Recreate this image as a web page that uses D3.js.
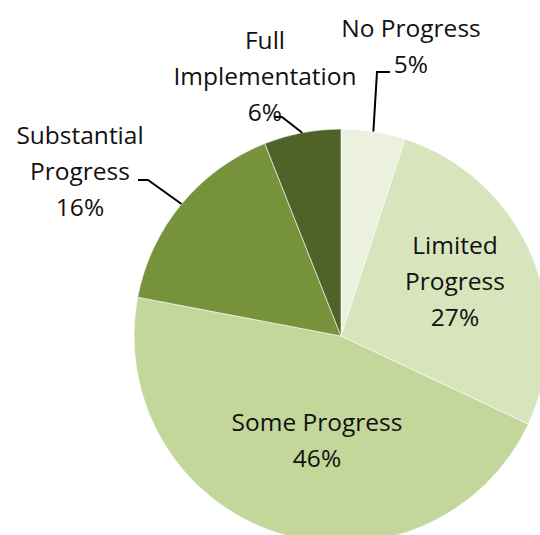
<!DOCTYPE html>
<html>
<head>
<meta charset="utf-8">
<script src="https://cdn.jsdelivr.net/npm/d3@7"></script>
<style>
  html, body { margin: 0; padding: 0; background: #fff; overflow: hidden; }
  text { font-family: "Open Sans", Lato, sans-serif; fill: #111; }
</style>
</head>
<body>
<div id="chart"></div>
<script>
// data
const categories = ["No Progress", "Limited Progress", "Some Progress", "Substantial Progress", "Full Implementation"];
const values = [5, 27, 46, 16, 6];
const colors = ["#ebf1de", "#d8e4bc", "#c4d79b", "#76933c", "#4f6228"];

// label layout (text lines, centre x, first baseline y, leader elbow)
const labelLines = [
    ["No Progress", "5%"],
    ["Limited", "Progress", "27%"],
    ["Some Progress", "46%"],
    ["Substantial", "Progress", "16%"],
    ["Full", "Implementation", "6%"]
];
const labelX = [411, 455, 317, 80, 265];
const labelY = [37, 254, 431, 144, 49];
// leader lines: [start point, elbow] then ends on slice edge; null = no leader
const leaders = [
    [[390, 72], [377, 72]],
    null,
    null,
    [[138, 180], [148, 180]],
    [[275, 117], [282, 117]]
];

const width = 540,
    height = 535,
    cx = 341,
    cy = 336,
    radius = 207,
    lineH = 36;

const svg = d3.select("#chart")
    .append("svg")
    .attr("width", width)
    .attr("height", height);

const g = svg.append("g")
    .attr("transform", `translate(${cx},${cy})`);

const pie = d3.pie().sort(null).value(d => d);
const arcs = pie(values);

const arc = d3.arc().innerRadius(0).outerRadius(radius);
const edge = d3.arc().innerRadius(radius).outerRadius(radius);

g.selectAll("path")
    .data(arcs)
    .join("path")
    .attr("d", arc)
    .attr("fill", (d, i) => colors[i])
    .attr("stroke", "#fff")
    .attr("stroke-width", 0.6);

// leader lines
arcs.forEach((d, i) => {
    if (!leaders[i]) return;
    const end = edge.centroid(d);
    const pts = leaders[i].map(p => [p[0] - cx, p[1] - cy]).concat([end]);
    g.append("path")
        .attr("d", d3.line()(pts))
        .attr("fill", "none")
        .attr("stroke", "#000")
        .attr("stroke-width", 2);
});

// labels
categories.forEach((c, i) => {
    const t = svg.append("text")
        .attr("text-anchor", "middle")
        .style("font-size", "24.5px");
    labelLines[i].forEach((line, j) => {
        t.append("tspan")
            .attr("x", labelX[i])
            .attr("y", labelY[i] + j * lineH)
            .text(line);
    });
});
</script>
</body>
</html>
